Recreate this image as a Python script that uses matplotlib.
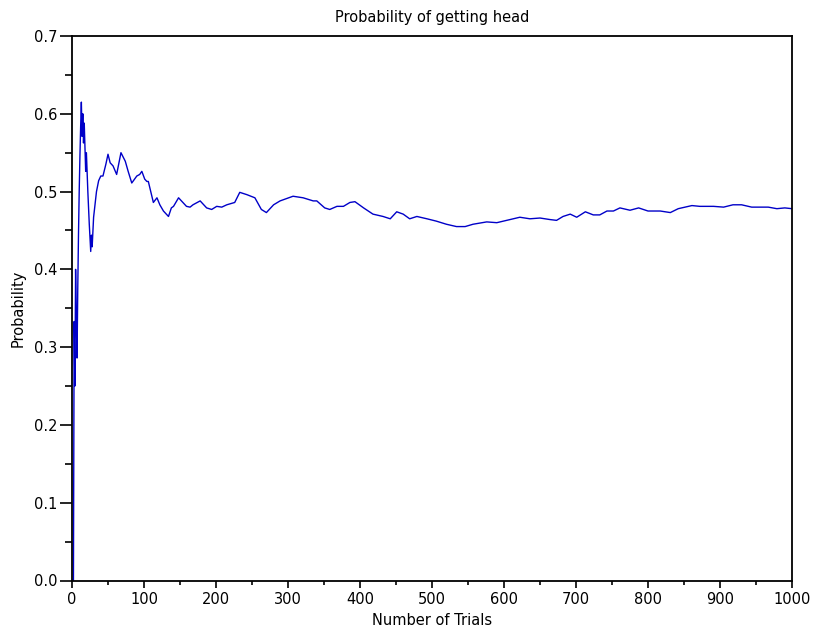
import matplotlib
matplotlib.use("Agg")
import matplotlib.pyplot as plt
from matplotlib.ticker import MultipleLocator

plt.rcParams['font.family'] = ['DejaVu Sans']

# Running proportion of heads
trials = [1, 2, 3, 4, 5, 6, 7, 8, 9, 10, 11, 12, 13, 14, 15, 16, 17, 18, 19, 20,
          21, 22, 23, 24, 25, 26, 27, 28, 29, 30, 32, 34, 37, 40, 43, 47, 50, 53,
          57, 62, 68, 74, 78, 83, 90, 94, 97, 101, 104, 106, 113, 118, 122, 127,
          134, 138, 141, 148, 151, 159, 164, 168, 178, 187, 194, 201, 208, 215,
          226, 233, 243, 254, 263, 270, 280, 289, 307, 321, 335, 340, 351, 358,
          368, 377, 386, 393, 405, 418, 432, 442, 451, 460, 469, 479, 493, 506,
          520, 534, 546, 557, 576, 590, 604, 622, 636, 650, 664, 673, 682, 692,
          701, 713, 724, 733, 743, 752, 761, 775, 787, 800, 817, 831, 842, 861,
          872, 891, 905, 918, 930, 944, 956, 967, 979, 990, 1000]
prob = [0.0, 0.0, 0.333, 0.25, 0.4, 0.333, 0.286, 0.375, 0.444, 0.5, 0.545,
        0.583, 0.615, 0.571, 0.6, 0.5625, 0.588, 0.556, 0.526, 0.55,
        0.524, 0.5, 0.478, 0.458, 0.44, 0.423, 0.444, 0.429, 0.448, 0.467,
        0.484, 0.5, 0.514, 0.52, 0.52, 0.535, 0.548, 0.537, 0.533, 0.522, 0.55,
        0.539, 0.526, 0.511, 0.52, 0.522, 0.526, 0.516, 0.513, 0.513, 0.486,
        0.492, 0.483, 0.475, 0.468, 0.479, 0.481, 0.492, 0.489, 0.481, 0.48,
        0.483, 0.488, 0.479, 0.477, 0.481, 0.48, 0.483, 0.486, 0.499, 0.496,
        0.492, 0.477, 0.473, 0.483, 0.488, 0.494, 0.492, 0.488, 0.488, 0.479,
        0.477, 0.481, 0.481, 0.486, 0.487, 0.479, 0.471, 0.468, 0.465, 0.474,
        0.471, 0.465, 0.468, 0.465, 0.462, 0.458, 0.455, 0.455, 0.458, 0.461,
        0.46, 0.463, 0.467, 0.465, 0.466, 0.464, 0.463, 0.468, 0.471, 0.467,
        0.474, 0.47, 0.47, 0.475, 0.475, 0.479, 0.476, 0.479, 0.475, 0.475,
        0.473, 0.478, 0.482, 0.481, 0.481, 0.48, 0.483, 0.483, 0.48, 0.48,
        0.48, 0.478, 0.479, 0.478]

title = "Probability of getting head"
xlabel = "Number of Trials"
ylabel = "Probability"

FS = 10.5

fig = plt.figure(figsize=(8.14, 6.34), dpi=100)
ax = fig.add_axes([72 / 814, 1 - 580.5 / 634, 720 / 814, 544.5 / 634])
ax.plot(trials, prob, color='#0000c8', linewidth=1.0)

ax.set_xlim(0, 1000)
ax.set_ylim(0, 0.7)
ax.xaxis.set_major_locator(MultipleLocator(100))
ax.xaxis.set_minor_locator(MultipleLocator(50))
ax.yaxis.set_major_locator(MultipleLocator(0.1))
ax.yaxis.set_minor_locator(MultipleLocator(0.05))
ax.set_yticklabels([f"{v:.1f}" for v in ax.get_yticks()])

ax.tick_params(axis='x', which='major', direction='out', length=5, width=1.2,
               labelsize=FS, pad=3.5)
ax.tick_params(axis='x', which='minor', direction='out', length=3, width=1.2)
ax.tick_params(axis='y', which='major', direction='out', length=8.5, width=1.2,
               labelsize=FS, pad=2)
ax.tick_params(axis='y', which='minor', direction='out', length=5, width=1.2)
for s in ax.spines.values():
    s.set_linewidth(1.3)

ax.set_title(title, fontsize=FS, pad=10)
ax.set_xlabel(xlabel, fontsize=FS, labelpad=4)
ax.set_ylabel(ylabel, fontsize=FS, labelpad=6)

fig.savefig("out.png", dpi=100)
